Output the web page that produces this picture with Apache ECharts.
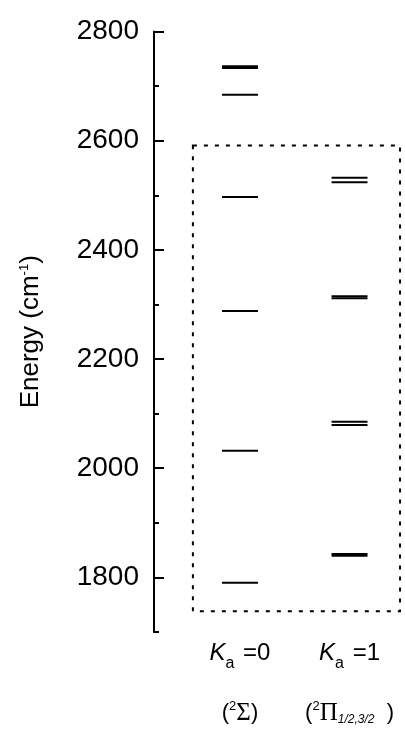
<!DOCTYPE html>
<html><head><meta charset="utf-8">
<script src="https://cdn.jsdelivr.net/npm/echarts@6/dist/echarts.min.js"></script>
<style>html,body{margin:0;padding:0;background:#fff}#c{width:405px;height:729px}</style>
</head><body><div id="c"></div>
<script>
// ---- data ----
const columns = [0, 1];                 // K_a = 0, K_a = 1
const ka0Levels = [1790, 2032, 2288, 2497, 2684, 2733, 2736.5];
const ka1Levels = [1839.5, 1843, 2079, 2085, 2311.5, 2315, 2524, 2532];
const yMajorTicks = [1800, 2000, 2200, 2400, 2600, 2800];
const yMinorTicks = [1700, 1900, 2100, 2300, 2500, 2700];
const yRange = [1700, 2800];
const boxEnergy = [1738, 2591];          // dashed box energy extent (cm-1)
const labelLine1 = ['{k|K}{sub|a}{eq| =0}', '{k|K}{sub|a}{eq| =1}'];
const labelLine2 = ['{p|(}{sup|2}{g|Σ}{p|)}', '{p|(}{sup|2}{g|Π}{gsub|1/2,3/2}{p|  )}'];

// ---- layout helpers (not data) ----
const HALF = 0.164;
const X_MIN = -0.785, X_MAX = 1.479;
const BOX_X = [-0.43, 1.461];

const levelData = [];
ka0Levels.forEach(v => levelData.push([columns[0], v]));
ka1Levels.forEach(v => levelData.push([columns[1], v]));

const rich1 = {
  k: {fontFamily: 'Liberation Sans', fontStyle: 'italic', fontSize: 24, lineHeight: 36, color: '#000'},
  sub: {fontFamily: 'Liberation Sans', fontSize: 16, verticalAlign: 'bottom', color: '#000', padding: [0, 2, 0, 0]},
  eq: {fontFamily: 'Liberation Sans', fontSize: 24, lineHeight: 36, color: '#000'}
};
const rich2 = {
  p: {fontFamily: 'Liberation Sans', fontSize: 22, lineHeight: 26, color: '#000'},
  sup: {fontFamily: 'Liberation Sans', fontSize: 13, verticalAlign: 'top', color: '#000'},
  g: {fontFamily: 'Liberation Serif', fontSize: 25, lineHeight: 26, color: '#000'},
  gsub: {fontFamily: 'Liberation Sans', fontStyle: 'italic', fontSize: 12, verticalAlign: 'bottom', color: '#000'}
};

const baseX = {
  type: 'value', min: X_MIN, max: X_MAX, position: 'bottom', offset: 0,
  axisLine: {show: false, onZero: false}, axisTick: {show: false}, splitLine: {show: false}
};

const chart = echarts.init(document.getElementById('c'), null, {renderer: 'canvas'});
chart.setOption({
  animation: false,
  backgroundColor: '#fff',
  grid: {left: 154, right: 3, top: 31.5, bottom: 97, outerBoundsMode: 'none', containLabel: false},
  xAxis: [
    Object.assign({}, baseX, {axisLabel: {customValues: columns, margin: 3.5, rich: rich1,
      formatter: (v) => labelLine1[columns.indexOf(v)]}}),
    Object.assign({}, baseX, {axisLabel: {customValues: columns, margin: 68, rich: rich2,
      formatter: (v) => labelLine2[columns.indexOf(v)]}})
  ],
  yAxis: [{
    type: 'value', min: yRange[0], max: yRange[1],
    name: 'Energy (cm{s|-1})', nameLocation: 'middle', nameRotate: 90, nameGap: 110,
    nameTextStyle: {fontFamily: 'Liberation Sans', fontSize: 26, color: '#000',
      rich: {s: {fontFamily: 'Liberation Sans', fontSize: 13, verticalAlign: 'top', color: '#000'}}},
    axisLine: {show: true, onZero: false, lineStyle: {color: '#000', width: 2}},
    axisTick: {show: true, inside: true, length: 10, customValues: yMajorTicks, lineStyle: {color: '#000', width: 2}},
    axisLabel: {customValues: yMajorTicks, margin: 15, fontFamily: 'Liberation Sans', fontSize: 28, color: '#000',
      formatter: (v) => String(v)},
    splitLine: {show: false}
  }, {
    type: 'value', min: yRange[0], max: yRange[1], position: 'left', offset: 0,
    axisLine: {show: false, onZero: false},
    axisTick: {show: true, inside: true, length: 5, customValues: yMinorTicks, lineStyle: {color: '#000', width: 2}},
    axisLabel: {show: false}, splitLine: {show: false}
  }],
  series: [{
    type: 'custom', clip: false, xAxisIndex: 0, yAxisIndex: 0,
    data: [[BOX_X[0], boxEnergy[0], BOX_X[1], boxEnergy[1]]],
    renderItem: (params, api) => {
      const tl = api.coord([api.value(0), api.value(3)]);
      const br = api.coord([api.value(2), api.value(1)]);
      return {type: 'rect', shape: {x: tl[0], y: tl[1], width: br[0] - tl[0], height: br[1] - tl[1]},
        style: {fill: 'none', stroke: '#000', lineWidth: 2, lineDash: [4, 7]}};
    }
  }, {
    type: 'custom', clip: false, xAxisIndex: 0, yAxisIndex: 0,
    data: levelData,
    renderItem: (params, api) => {
      const x = api.value(0), y = api.value(1);
      const a = api.coord([x - HALF, y]), b = api.coord([x + HALF, y]);
      return {type: 'line', shape: {x1: a[0], y1: a[1], x2: b[0], y2: b[1]},
        style: {stroke: '#000', lineWidth: 2}};
    }
  }]
});
</script></body></html>
